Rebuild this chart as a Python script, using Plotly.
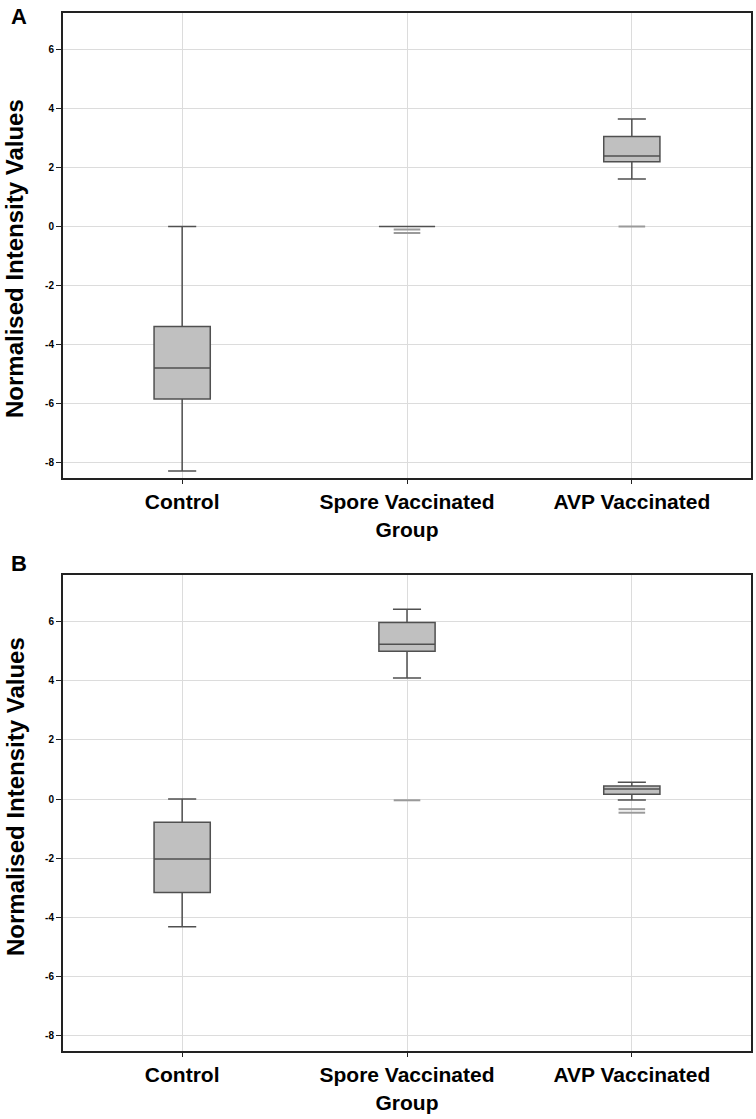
import plotly.graph_objects as go

# ---- data ----
categories = ["Control", "Spore Vaccinated<br>Group", "AVP Vaccinated"]
tick_values = [-8, -6, -4, -2, 0, 2, 4, 6]
tick_labels = ["-8", "-6", "-4", "-2", "0", "2", "4", "6"]

# Panel A box statistics
a_lower = [-8.28, 0.0, 1.61]
a_q1 = [-5.84, 0.0, 2.19]
a_median = [-4.79, 0.0, 2.39]
a_q3 = [-3.39, 0.0, 3.05]
a_upper = [0.0, 0.0, 3.64]
a_out_x = ["Spore Vaccinated<br>Group", "Spore Vaccinated<br>Group", "AVP Vaccinated"]
a_out_y = [-0.10, -0.22, 0.0]

# Panel B box statistics
b_lower = [-4.32, 4.10, -0.03]
b_q1 = [-3.16, 5.00, 0.16]
b_median = [-2.03, 5.24, 0.34]
b_q3 = [-0.78, 5.97, 0.44]
b_upper = [0.0, 6.42, 0.57]
b_out_x = ["Spore Vaccinated<br>Group", "AVP Vaccinated", "AVP Vaccinated"]
b_out_y = [-0.04, -0.34, -0.46]

FONT = "Liberation Sans, Arial, sans-serif"
BOX_FILL = "#c0c0c0"
BOX_LINE = "#505050"
OUT_COLOR = "#9a9a9a"

fig = go.Figure()

def add_panel(lower, q1, med, q3, upper, ox, oy, xa, ya):
    fig.add_trace(go.Box(
        x=categories, lowerfence=lower, q1=q1, median=med, q3=q3, upperfence=upper,
        fillcolor=BOX_FILL, line=dict(color=BOX_LINE, width=1.5),
        width=0.25, whiskerwidth=0.5, boxpoints=False,
        xaxis=xa, yaxis=ya, showlegend=False, hoverinfo="skip"))
    fig.add_trace(go.Scatter(
        x=ox, y=oy, mode="markers",
        marker=dict(symbol="line-ew", size=19, color=OUT_COLOR,
                    line=dict(color=OUT_COLOR, width=2)),
        xaxis=xa, yaxis=ya, showlegend=False, hoverinfo="skip"))

add_panel(a_lower, a_q1, a_median, a_q3, a_upper, a_out_x, a_out_y, "x", "y")
add_panel(b_lower, b_q1, b_median, b_q3, b_upper, b_out_x, b_out_y, "x2", "y2")

W, H = 756, 1119

def px(x):
    return x / W

def py(y):
    return (H - y) / H

xdom = [px(63), px(751)]
ydomA = [py(478), py(12.5)]
ydomB = [py(1051), py(575)]

xcommon = dict(type="category", categoryorder="array", categoryarray=categories,
               range=[-0.53, 2.53], showgrid=True, gridcolor="#dcdcdc", gridwidth=1,
               showline=True, linecolor="#222222", linewidth=2, mirror=True,
               ticks="outside", ticklen=4, tickcolor="#222222", tickwidth=1,
               tickfont=dict(family=FONT, size=21, color="#000000", weight="bold"),
               zeroline=False, domain=xdom)
ycommon = dict(showgrid=True, gridcolor="#dcdcdc", gridwidth=1,
               showline=True, linecolor="#222222", linewidth=2, mirror=True,
               ticks="outside", ticklen=5, tickcolor="#222222", tickwidth=1,
               tickmode="array", tickvals=tick_values, ticktext=tick_labels,
               tickfont=dict(family=FONT, size=10, color="#000000", weight="bold"),
               zeroline=False)

fig.update_layout(
    width=W, height=H, margin=dict(l=0, r=0, t=0, b=0),
    paper_bgcolor="white", plot_bgcolor="white",
    xaxis=dict(xcommon, anchor="y"),
    yaxis=dict(ycommon, anchor="x", domain=ydomA, range=[-8.52, 7.25]),
    xaxis2=dict(xcommon, anchor="y2"),
    yaxis2=dict(ycommon, anchor="x2", domain=ydomB, range=[-8.52, 7.58]),
    annotations=[
        dict(text="<b>A</b>", x=px(9), y=py(16), xref="paper", yref="paper",
             xanchor="left", yanchor="middle", showarrow=False,
             font=dict(family=FONT, size=22, color="#000000")),
        dict(text="<b>B</b>", x=px(9), y=py(563), xref="paper", yref="paper",
             xanchor="left", yanchor="middle", showarrow=False,
             font=dict(family=FONT, size=22, color="#000000")),
        dict(text="<b>Normalised Intensity Values</b>", x=px(15), y=py(259),
             xref="paper", yref="paper", xanchor="center", yanchor="middle",
             textangle=-90, showarrow=False,
             font=dict(family=FONT, size=24, color="#000000")),
        dict(text="<b>Normalised Intensity Values</b>", x=px(15), y=py(797),
             xref="paper", yref="paper", xanchor="center", yanchor="middle",
             textangle=-90, showarrow=False,
             font=dict(family=FONT, size=24, color="#000000")),
    ],
)

fig.write_html("out.html", config={"displayModeBar": False},
               post_script="document.body.style.margin='0px';")
